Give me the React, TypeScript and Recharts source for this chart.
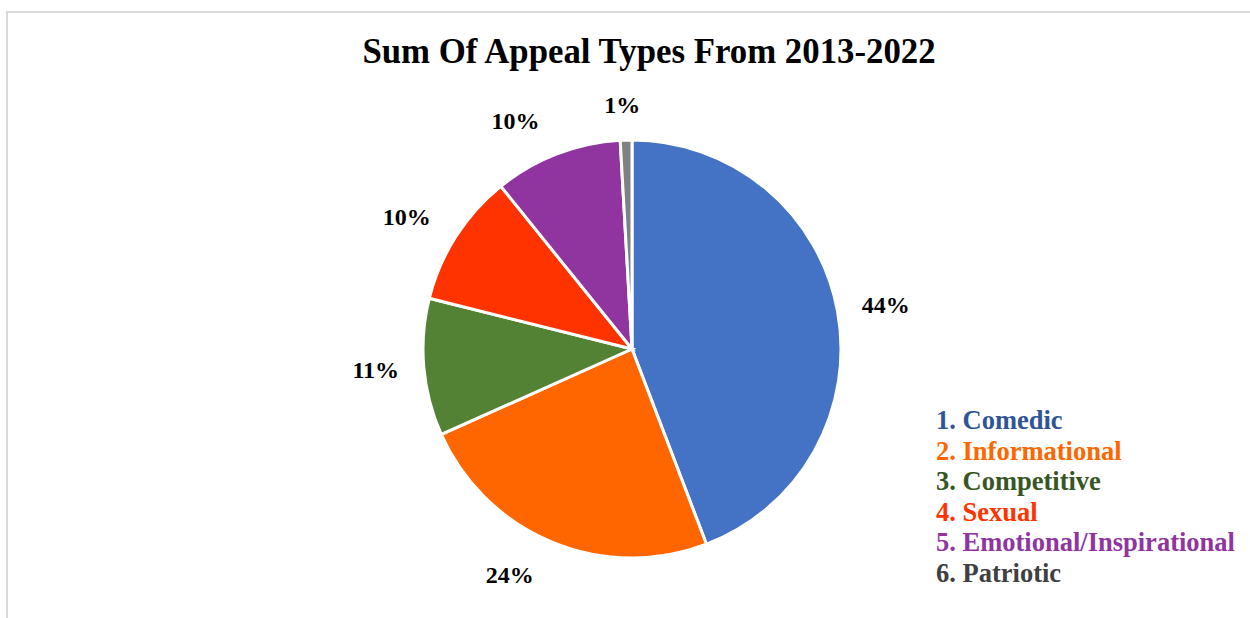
import React from "react";
import { PieChart, Pie, Cell, Legend } from "recharts";

const categories = [
  "1. Comedic",
  "2. Informational",
  "3. Competitive",
  "4. Sexual",
  "5. Emotional/Inspirational",
  "6. Patriotic",
];
const shares = [44.2, 24.1, 10.6, 10.3, 9.9, 0.9];
const sliceColors = ["#4472C4", "#FF6600", "#548235", "#FF3300", "#9035A0", "#808080"];
const legendColors = ["#2F5597", "#FF6600", "#375623", "#FF3300", "#9035A0", "#404040"];
const title = "Sum Of Appeal Types From 2013-2022";

const data = categories.map((name, i) => ({ name, value: shares[i] }));

const RAD = Math.PI / 180;
const FONT = "'Liberation Serif', 'Times New Roman', serif";
const LABEL_SIZE = 24;

const renderLabel = (props: any) => {
  const { cx, cy, midAngle, outerRadius, percent } = props;
  const txt = `${Math.round(percent * 100)}%`;
  const w = LABEL_SIZE * (0.5 * (txt.length - 1) + 1);
  const h = LABEL_SIZE * 0.95;
  const cosA = Math.cos(midAngle * RAD);
  const sinA = Math.sin(midAngle * RAD);
  const r = outerRadius + 24;
  const px = cx + r * cosA;
  const py = cy - r * sinA;
  const fx = Math.sign(cosA) * Math.min(1, Math.abs(cosA) * 4);
  const extra = 38 * cosA * (1 - Math.abs(cosA));
  const x = px + fx * w / 2 + extra;
  const y = py - sinA * h / 2;
  return (
    <text
      x={x}
      y={y}
      textAnchor="middle"
      dominantBaseline="central"
      fontFamily={FONT}
      fontWeight="bold"
      fontSize={LABEL_SIZE}
      fill="#000"
    >
      {txt}
    </text>
  );
};

const renderLegend = (props: any) => {
  const { payload } = props;
  return (
    <div style={{ fontFamily: FONT, fontWeight: "bold", fontSize: 26.5, lineHeight: "30.5px", whiteSpace: "nowrap" }}>
      {(payload || []).map((p: any, i: number) => (
        <div key={i} style={{ color: legendColors[i] }}>
          {p.value}
        </div>
      ))}
    </div>
  );
};

export default function App() {
  return (
    <div style={{ position: "absolute", left: 0, top: 0, width: 1250, height: 618, background: "#fff", overflow: "hidden" }}>
      <div
        style={{
          position: "absolute",
          left: 6,
          top: 11,
          width: 1400,
          height: 800,
          borderLeft: "2px solid #d9d9d9",
          borderTop: "2px solid #d9d9d9",
        }}
      />
      <div
        style={{
          position: "absolute",
          left: 0,
          width: 1298,
          top: 32,
          textAlign: "center",
          fontFamily: FONT,
          fontWeight: "bold",
          fontSize: 34.8,
          lineHeight: "40px",
          color: "#000",
        }}
      >
        {title}
      </div>
      <div style={{ position: "absolute", left: 0, top: 0 }}>
        <PieChart width={1250} height={618} margin={{ top: 0, right: 0, bottom: 0, left: 0 }}>
          <Pie
            data={data}
            dataKey="value"
            nameKey="name"
            cx={632}
            cy={349}
            outerRadius={209}
            startAngle={90}
            endAngle={-270}
            stroke="#ffffff"
            strokeWidth={3}
            label={renderLabel}
            labelLine={false}
            isAnimationActive={false}
          >
            {data.map((d, i) => (
              <Cell key={d.name} fill={sliceColors[i]} />
            ))}
          </Pie>
          <Legend
            content={renderLegend}
            layout="vertical"
            wrapperStyle={{ position: "absolute", left: 936, top: 405, width: 314 }}
          />
        </PieChart>
      </div>
    </div>
  );
}
